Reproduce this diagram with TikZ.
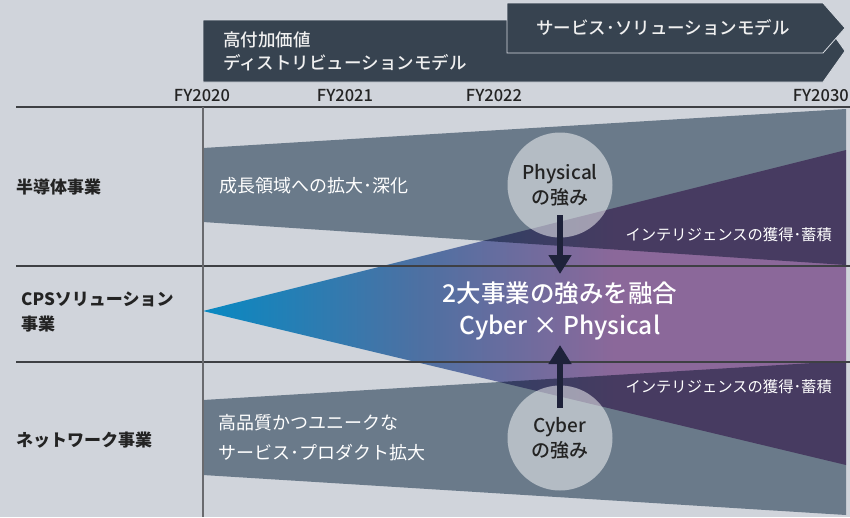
\documentclass[tikz,border=0pt]{standalone}
\usepackage{fontspec}
\setmainfont{Noto Sans CJK JP}
\newfontfamily\medfont{Noto Sans CJK JP Medium}
\usetikzlibrary{arrows.meta}
\definecolor{bg}{RGB}{208,212,219}
\definecolor{banner}{RGB}{55,67,80}
\definecolor{bannerline}{RGB}{215,219,225}
\definecolor{graymul}{RGB}{131,147,161}
\definecolor{cpsA}{RGB}{8,137,194}
\definecolor{cpsB}{RGB}{78,112,162}
\definecolor{cpsC}{RGB}{139,104,154}
\definecolor{navy}{RGB}{30,34,58}
\definecolor{txt}{RGB}{35,35,35}
\definecolor{rulec}{RGB}{62,64,68}
\definecolor{vrule}{RGB}{105,106,110}
\pgfdeclarehorizontalshading{cpsfan}{100bp}{color(0bp)=(cpsA); color(25bp)=(cpsA); color(42bp)=(cpsB); color(57bp)=(cpsC); color(75bp)=(cpsC); color(100bp)=(cpsC)}
\begin{document}
\begin{tikzpicture}[x=1pt,y=-1pt,
  bannerbox/.style={fill=banner,draw=bannerline,line width=0.8pt},
  graywedge/.style={fill=graymul,blend mode=multiply},
  gridline/.style={draw=rulec,line width=1.2pt},
  lbl/.style={inner sep=0pt,anchor=west},
  rowlabel/.style={lbl,text=txt,font=\bfseries\fontsize{17}{25}\selectfont,align=left},
  fylabel/.style={inner sep=0pt,text=txt,font=\medfont\fontsize{16.5}{18}\selectfont},
  whitetext/.style={lbl,text=white,font=\fontsize{18}{30}\selectfont,align=left},
  smallwhite/.style={inner sep=0pt,anchor=east,text=white,font=\fontsize{15.3}{18}\selectfont},
  bannertext/.style={lbl,text=white!94!black,font=\medfont\fontsize{17.5}{23}\selectfont,align=left},
  strength/.style={circle,minimum size=105pt,inner sep=0pt,fill=white,fill opacity=0.5,text opacity=1,text=txt,align=center,font=\medfont\fontsize{19}{25}\selectfont},
  maintext/.style={inner sep=0pt,text=white,align=center,font=\medfont\fontsize{24.5}{32}\selectfont},
  conn/.style={draw=navy,line width=6pt,-{Triangle[width=22pt,length=19pt]}}
]
\useasboundingbox (0,0) rectangle (850,517);
\fill[bg] (0,0) rectangle (850,517);

% banners
\path[bannerbox] (203,20) -- (823,20) -- (845,51) -- (823,82) -- (203,82) -- cycle;
\path[bannerbox] (507,3) -- (823,3) -- (845,28) -- (823,53) -- (507,53) -- cycle;
\node[bannertext] (b1) at (223,51) {高付加価値\\ディストリビューションモデル};
\node[bannertext,anchor=center] (b2) at (663,28) {サービス･ソリューションモデル};

% fan
\shade[shading=cpsfan] (203,311) -- (846,150) -- (846,465) -- cycle;
% gray wedges
\fill[graywedge] (203,148) -- (846,109) -- (846,265) -- (203,222) -- cycle;
\fill[graywedge] (203,400) -- (846,361) -- (846,515) -- (203,475) -- cycle;

% grid
\draw[gridline] (16,107) -- (850,107);
\draw[gridline] (16,266) -- (850,266);
\draw[gridline] (16,362) -- (850,362);
\draw[draw=vrule,line width=1.6pt] (203,107) -- (203,517);

% FY labels
\node[fylabel] (fy20) at (202,96) {FY2020};
\node[fylabel] (fy21) at (345,96) {FY2021};
\node[fylabel] (fy22) at (494,96) {FY2022};
\node[fylabel,anchor=east] (fy30) at (849,96) {FY2030};

% row labels
\node[rowlabel] (r1) at (16,187) {半導体事業};
\node[rowlabel] (r2) at (21,312) {CPSソリューション\\事業};
\node[rowlabel] (r3) at (16,440) {ネットワーク事業};

% white texts
\node[whitetext] (t1) at (219,186) {成長領域への拡大･深化};
\node[whitetext] (t2) at (218,438) {高品質かつユニークな\\サービス･プロダクト拡大};
\node[smallwhite] (i1) at (832,235) {インテリジェンスの獲得･蓄積};
\node[smallwhite] (i2) at (832,387) {インテリジェンスの獲得･蓄積};

% main
\node[maintext] (main) at (560,311) {2大事業の強みを融合\\Cyber × Physical};

% circles
\node[strength] (pc) at (560,185) {Physical\\の強み};
\node[strength] (cc) at (560,438) {Cyber\\の強み};

% arrows
\coordinate (ptip) at (560,274);
\coordinate (ctip) at (560,345);
\draw[conn] ([yshift=-30pt]pc.center) -- (ptip);
\draw[conn] ([yshift=30pt]cc.center) -- (ctip);
\end{tikzpicture}
\end{document}
